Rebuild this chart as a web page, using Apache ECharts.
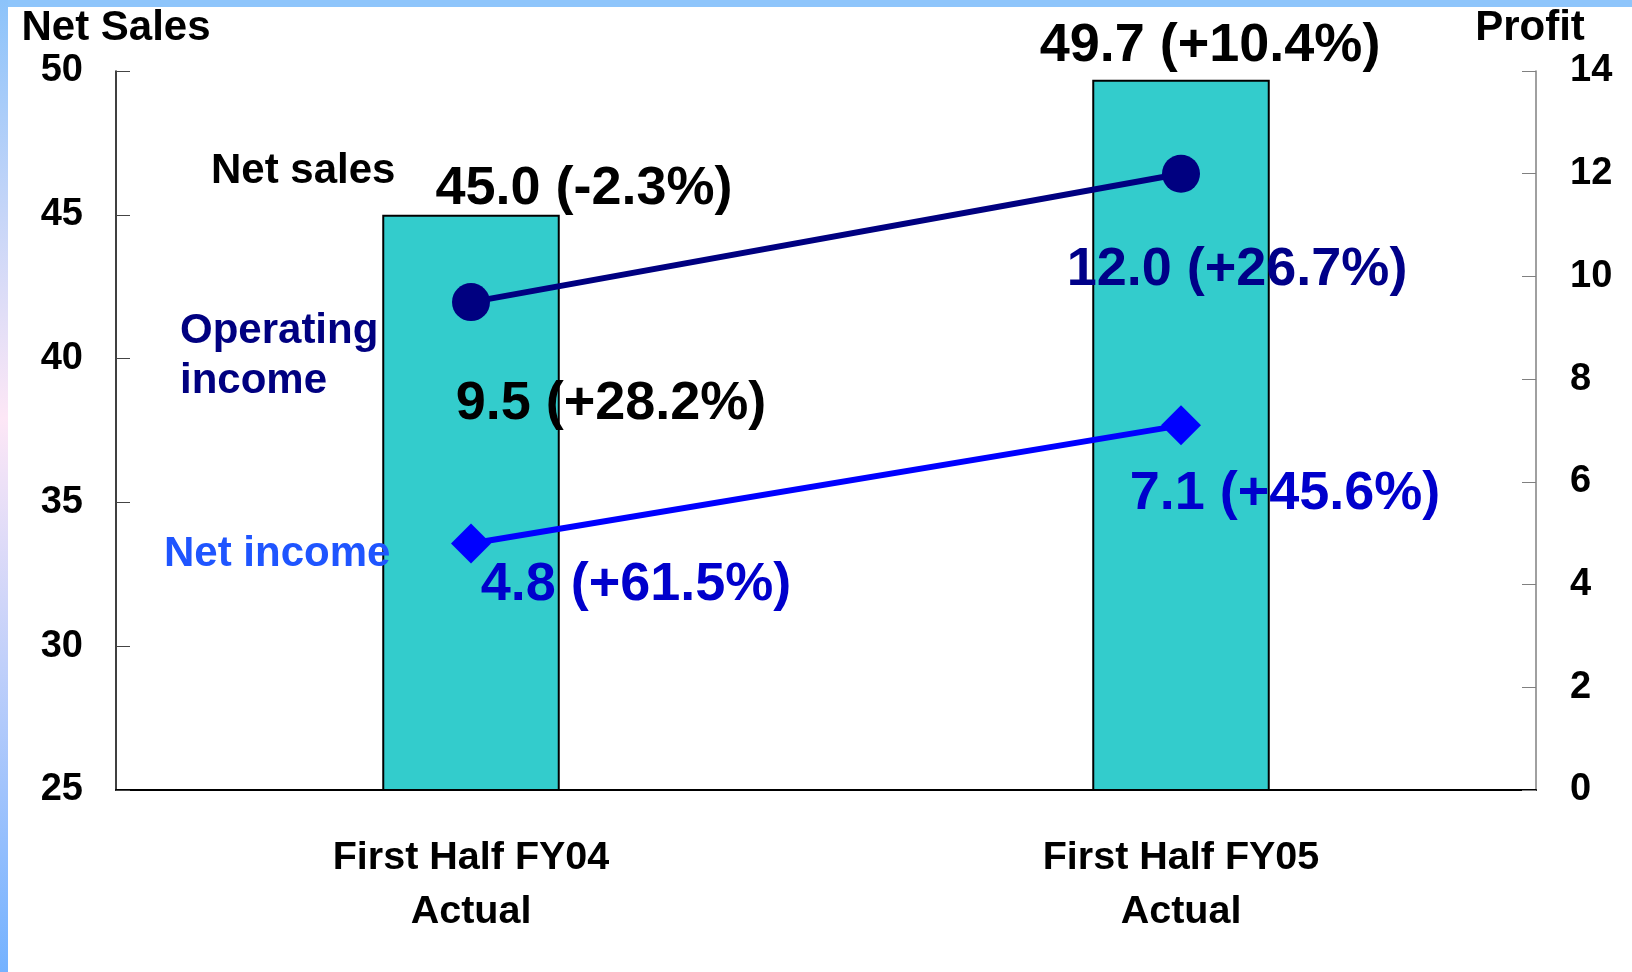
<!DOCTYPE html>
<html>
<head>
<meta charset="utf-8">
<script src="https://cdn.jsdelivr.net/npm/echarts@6/dist/echarts.min.js"></script>
<style>
html,body{margin:0;padding:0;background:#fff;}
#chart{width:1632px;height:972px;}
</style>
</head>
<body>
<div id="chart"></div>
<script>
// ---- data ----
const categories = ['First Half FY04\nActual', 'First Half FY05\nActual'];
const netSales = [45.0, 49.7];
const netSalesGrowth = ['-2.3%', '+10.4%'];
const operatingIncome = [9.5, 12.0];
const operatingIncomeGrowth = ['+28.2%', '+26.7%'];
const netIncome = [4.8, 7.1];
const netIncomeGrowth = ['+61.5%', '+45.6%'];
const leftTicks = {min: 25, max: 50, interval: 5};
const rightTicks = {min: 0, max: 14, interval: 2};

// ---- label layout (style only) ----
const salesLabelOffset = [[113, -26], [29, -34]];
const oiLabelOffset = [[140, 102], [56, 96]];
const oiLabelColor = ['#000000', '#000088'];
const niLabelOffset = [[165, 42], [104, 69]];
const niLabelColor = ['#0000cc', '#0000cc'];

const FONT = '"Liberation Sans", Arial, sans-serif';
const fmt = (v, g) => v.toFixed(1) + ' (' + g + ')';

const chart = echarts.init(document.getElementById('chart'));
chart.setOption({
  animation: false,
  backgroundColor: '#ffffff',
  textStyle: {fontFamily: FONT},
  grid: {left: 116, right: 96, top: 71, bottom: 182},
  xAxis: {
    type: 'category',
    data: categories,
    axisLine: {lineStyle: {color: '#000', width: 2}},
    axisTick: {inside: true, length: 14, lineStyle: {color: '#555', width: 1}},
    axisLabel: {color: '#000', fontSize: 39.5, fontWeight: 'bold', fontFamily: FONT, lineHeight: 54, margin: 41}
  },
  yAxis: [
    {
      type: 'value', position: 'left',
      min: leftTicks.min, max: leftTicks.max, interval: leftTicks.interval,
      name: 'Net Sales', nameLocation: 'end', nameGap: 22,
      nameTextStyle: {color: '#000', fontSize: 42, fontWeight: 'bold', fontFamily: FONT},
      axisLine: {show: true, lineStyle: {color: '#000', width: 1.5}},
      axisTick: {show: true, inside: true, length: 14, lineStyle: {color: '#444', width: 1}},
      axisLabel: {color: '#000', fontSize: 38, fontWeight: 'bold', fontFamily: FONT, margin: 33, padding: [8, 0, 0, 0]},
      splitLine: {show: false}
    },
    {
      type: 'value', position: 'right',
      min: rightTicks.min, max: rightTicks.max, interval: rightTicks.interval,
      name: 'Profit', nameLocation: 'end', nameGap: 22,
      nameTextStyle: {color: '#000', fontSize: 42, fontWeight: 'bold', fontFamily: FONT, padding: [0, 12, 0, 0]},
      axisLine: {show: true, lineStyle: {color: '#808080', width: 1.5}},
      axisTick: {show: true, inside: true, length: 14, lineStyle: {color: '#808080', width: 1}},
      axisLabel: {color: '#000', fontSize: 38, fontWeight: 'bold', fontFamily: FONT, margin: 34, padding: [8, 0, 0, 0]},
      splitLine: {show: false}
    }
  ],
  series: [
    {
      name: 'Net sales', type: 'bar', yAxisIndex: 0, barWidth: '25%',
      itemStyle: {color: '#33cccc', borderColor: '#000', borderWidth: 2},
      data: netSales.map((v, i) => ({
        value: v,
        label: {offset: salesLabelOffset[i]}
      })),
      label: {
        show: true, position: 'top', distance: 0, verticalAlign: 'middle',
        color: '#000', fontSize: 54, fontWeight: 'bold', fontFamily: FONT,
        formatter: p => fmt(netSales[p.dataIndex], netSalesGrowth[p.dataIndex])
      },
      z: 1
    },
    {
      name: 'Operating income', type: 'line', yAxisIndex: 1,
      symbol: 'circle', symbolSize: 38,
      lineStyle: {color: '#000080', width: 6},
      itemStyle: {color: '#000080'},
      data: operatingIncome.map((v, i) => ({
        value: v,
        label: {offset: oiLabelOffset[i], color: oiLabelColor[i]}
      })),
      label: {
        show: true, position: 'inside', align: 'center', verticalAlign: 'middle',
        fontSize: 54, fontWeight: 'bold', fontFamily: FONT,
        formatter: p => fmt(operatingIncome[p.dataIndex], operatingIncomeGrowth[p.dataIndex])
      },
      z: 3
    },
    {
      name: 'Net income', type: 'line', yAxisIndex: 1,
      symbol: 'diamond', symbolSize: 40,
      lineStyle: {color: '#0000ff', width: 6},
      itemStyle: {color: '#0000ff'},
      data: netIncome.map((v, i) => ({
        value: v,
        label: {offset: niLabelOffset[i], color: niLabelColor[i]}
      })),
      label: {
        show: true, position: 'inside', align: 'center', verticalAlign: 'middle',
        fontSize: 54, fontWeight: 'bold', fontFamily: FONT,
        formatter: p => fmt(netIncome[p.dataIndex], netIncomeGrowth[p.dataIndex])
      },
      z: 3
    }
  ],
  graphic: [
    {type: 'rect', left: 0, top: 0, shape: {width: 1632, height: 7}, style: {fill: '#8ec5fb'}, z: 10},
    {type: 'rect', left: 0, top: 0, shape: {width: 8, height: 972},
      style: {fill: new echarts.graphic.LinearGradient(0, 0, 0, 1, [
        {offset: 0, color: '#8cc3fa'},
        {offset: 0.43, color: '#fde7f6'},
        {offset: 1, color: '#74b2ff'}
      ])}, z: 10},
    {type: 'text', left: 211, top: 150, z: 10, style: {text: 'Net sales', fill: '#000', font: 'bold 42px ' + FONT}},
    {type: 'text', left: 180, top: 306, z: 10, style: {text: 'Operating\nincome', fill: '#000080', font: 'bold 42px ' + FONT, lineHeight: 50}},
    {type: 'text', left: 164, top: 533, z: 10, style: {text: 'Net income', fill: '#1f55ff', font: 'bold 42px ' + FONT}}
  ]
});
</script>
</body>
</html>
